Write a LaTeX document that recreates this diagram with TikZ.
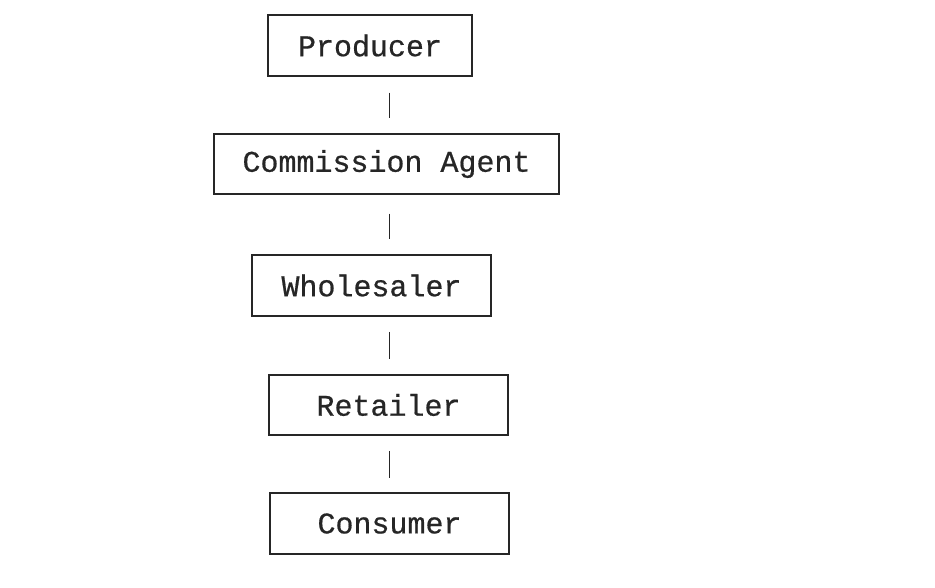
\documentclass[tikz,border=0pt]{standalone}
\usepackage{fontspec}
\setmonofont[FakeBold=0.6]{Liberation Mono}
\begin{document}
\begin{tikzpicture}[x=1pt,y=-1pt,
  chainbox/.style={draw=black!85, line width=1.5pt, inner sep=0pt, font=\fontsize{30}{30}\selectfont\ttfamily, text=black!85, anchor=center},
  link/.style={draw=black!85, line width=1.8pt, shorten <=15pt, shorten >=15pt}]
\useasboundingbox[fill=white] (0,0) rectangle (935,588);
\node[chainbox, minimum width=204pt, minimum height=61pt] (prod) at (370,45.5) {Producer};
\node[chainbox, minimum width=345pt, minimum height=60pt] (comm) at (386.5,164) {Commission Agent};
\node[chainbox, minimum width=239pt, minimum height=61pt] (whol) at (371.5,285.5) {Wholesaler};
\node[chainbox, minimum width=239pt, minimum height=60pt] (ret) at (388.5,405) {Retailer};
\node[chainbox, minimum width=239pt, minimum height=61pt] (cons) at (389.5,523.5) {Consumer};
\coordinate (axis) at (389.5,0);
\draw[link, shorten <=16pt] (prod.south -| axis) -- (comm.north -| axis);
\draw[link, shorten <=19pt] (comm.south -| axis) -- (whol.north -| axis);
\draw[link] (whol.south -| axis) -- (ret.north -| axis);
\draw[link, shorten >=14pt] (ret.south -| axis) -- (cons.north -| axis);
\end{tikzpicture}
\end{document}
